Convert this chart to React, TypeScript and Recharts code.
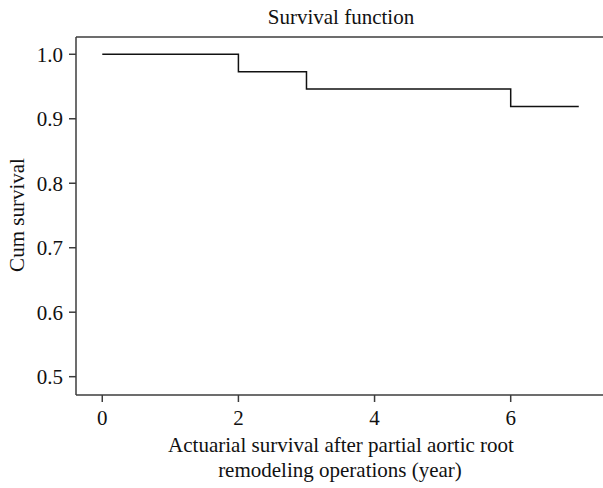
import { ComposedChart, Line, XAxis, YAxis, ReferenceLine } from "recharts";

const years = [0, 2, 3, 6, 7];
const survival = [1.0, 0.973, 0.946, 0.919, 0.919];
const xTicks = [0, 2, 4, 6];
const yTicks = [0.5, 0.6, 0.7, 0.8, 0.9, 1.0];
const title = "Survival function";
const xTitle = ["Actuarial survival after partial aortic root", "remodeling operations (year)"];
const yTitle = "Cum survival";

const FONT = "'Liberation Serif', 'Times New Roman', serif";
const AXIS = "#3c3c3c";
const Y_MAX = 1.0268;
const FS = 21;

const data = years.map((t, i) => ({ t, s: survival[i] }));

export default function App() {
  return (
    <div style={{ width: 603, height: 488, background: "#fff" }}>
      <style>{`body{margin:0}`}</style>
      <ComposedChart width={603} height={488} data={data} margin={{ top: 37, right: 0, bottom: 0, left: 0 }}>
        <XAxis
          dataKey="t"
          type="number"
          domain={[-0.386, 7.356]}
          ticks={xTicks}
          allowDataOverflow
          height={93}
          stroke={AXIS}
          strokeWidth={1.5}
          tickSize={7}
          tickMargin={8}
          tick={{ fill: "#111", fontSize: FS, fontFamily: FONT }}
          label={{
            content: () => (
              <text fill="#111" fontSize={FS} fontFamily={FONT} textAnchor="middle">
                <tspan x={341} y={452}>{xTitle[0]}</tspan>
                <tspan x={340} y={477}>{xTitle[1]}</tspan>
              </text>
            ),
          }}
        />
        <YAxis
          type="number"
          domain={[0.4716, Y_MAX]}
          ticks={yTicks}
          allowDataOverflow
          width={76}
          stroke={AXIS}
          strokeWidth={1.5}
          tickSize={7}
          tickMargin={6}
          tickFormatter={(v: number) => v.toFixed(1)}
          tick={{ fill: "#111", fontSize: FS, fontFamily: FONT }}
          label={{
            content: () => (
              <text
                x={17}
                y={215}
                fill="#111"
                fontSize={FS}
                fontFamily={FONT}
                textAnchor="middle"
                dominantBaseline="central"
                transform="rotate(-90 17 215)"
              >
                {yTitle}
              </text>
            ),
          }}
        />
        <ReferenceLine
          y={Y_MAX}
          stroke={AXIS}
          strokeWidth={1.5}
          label={{
            content: () => (
              <text x={341} y={24} fill="#111" fontSize={FS} fontFamily={FONT} textAnchor="middle">
                {title}
              </text>
            ),
          }}
        />
        <Line
          type="stepAfter"
          dataKey="s"
          stroke="#111"
          strokeWidth={1.5}
          dot={false}
          activeDot={false}
          isAnimationActive={false}
        />
      </ComposedChart>
    </div>
  );
}
